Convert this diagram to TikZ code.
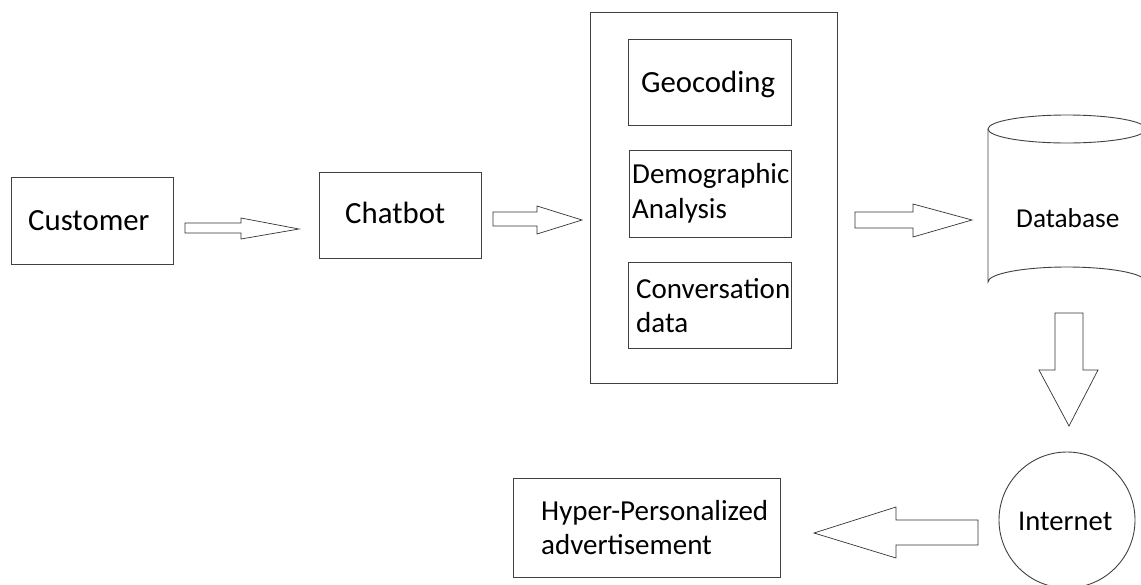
\documentclass[tikz,border=0pt]{standalone}
\usepackage{fontspec}
\setmainfont{Carlito}
\begin{document}
\begin{tikzpicture}[x=1pt,y=-1pt,
  box/.style={draw=black!75, line width=0.9pt, inner sep=0pt},
  barrow/.style={draw=black!80, line width=0.7pt, fill=white, line join=miter},
  big/.style={font=\fontsize{30.8}{34}\selectfont, anchor=base west, inner sep=0pt},
  mid/.style={font=\fontsize{29}{34}\selectfont, anchor=base west, inner sep=0pt},
  ]
\useasboundingbox (0,0) rectangle (1141,584);
\clip (0,0) rectangle (1141,584);
% boxes
\draw[box] (11,177) rectangle (173,264);
\node[box, draw=none, minimum width=162pt, minimum height=87pt] (cust) at (92,220.5) {};
\draw[box] (319,172) rectangle (481,258);
\node[box, draw=none, minimum width=162pt, minimum height=86pt] (chat) at (400,215) {};
\draw[box] (590,12) rectangle (837,383);
\node[box, draw=none, minimum width=247pt, minimum height=371pt] (outer) at (713.5,197.5) {};
\draw[box] (628,39) rectangle (791,125);
\node[box, draw=none, minimum width=163pt, minimum height=86pt] (geo) at (709.5,82) {};
\draw[box] (629,150) rectangle (791,237);
\node[box, draw=none, minimum width=162pt, minimum height=87pt] (demo) at (710,193.5) {};
\draw[box] (628,262) rectangle (791,348);
\node[box, draw=none, minimum width=163pt, minimum height=86pt] (conv) at (709.5,305) {};
\draw[box] (513,478) rectangle (780,577);
\node[box, draw=none, minimum width=267pt, minimum height=99pt] (hyper) at (646.5,527.5) {};
% database cylinder
\draw[box, fill=white] (988,129) -- (988,282) arc[start angle=180, end angle=360, x radius=79, y radius=15]
  -- (1146,129);
\draw[box] (1067,129) ellipse [x radius=79, y radius=14];
\node[box, draw=none, minimum width=158pt, minimum height=168pt] (db) at (1067,213) {};
% internet circle
\node[box, circle, minimum size=136pt] (inet) at (1067,520) {};
% texts
\node[big] (tcust) at (28,230) {Customer};
\node[big] (tchat) at (345,223) {Chatbot};
\node[big] (tgeo) at (641,92) {Geocoding};
\node[mid] (tdemo1) at (632,183) {Demographic};
\node[mid] (tdemo2) at (632,218) {Analysis};
\node[mid] (tconv1) at (636,298) {Conversation};
\node[mid] (tconv2) at (636,332) {data};
\node[mid] (thyp1) at (541,520) {Hyper-Personalized};
\node[mid] (thyp2) at (541,554) {advertisement};
\node[font=\fontsize{27.3}{32}\selectfont, anchor=base west, inner sep=0pt] (tdb) at (1016,227) {Database};
\node[font=\fontsize{28.6}{32}\selectfont, anchor=base west, inner sep=0pt] (tinet) at (1018,530) {Internet};
% block arrows
\draw[barrow] (185,223) -- (241,223) -- (241,218) -- (299,229) -- (241,239) -- (241,233) -- (185,233) -- cycle;
\draw[barrow] (493,212) -- (537,212) -- (537,206) -- (582,220) -- (537,234) -- (537,226) -- (493,226) -- cycle;
\draw[barrow] (855,212) -- (913,212) -- (913,204) -- (972,220) -- (913,237) -- (913,228) -- (855,228) -- cycle;
\draw[barrow] (1055,313) -- (1083,313) -- (1083,370) -- (1098,370) -- (1069,426) -- (1039,370) -- (1055,370) -- cycle;
\draw[barrow] (978,520) -- (896,520) -- (896,507) -- (814,533) -- (896,558) -- (896,545) -- (978,545) -- cycle;
\end{tikzpicture}
\end{document}
